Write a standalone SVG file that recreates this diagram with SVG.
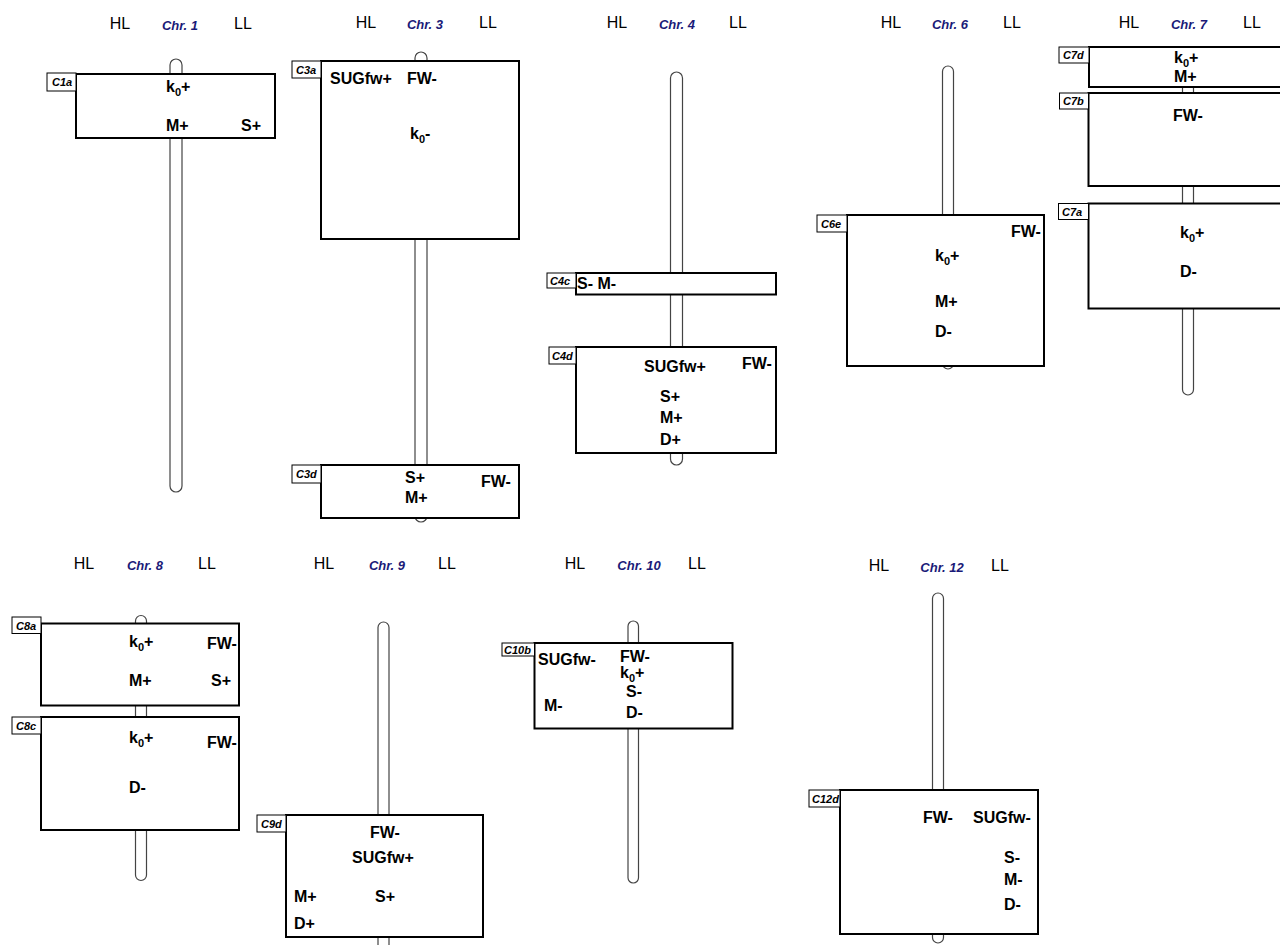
<svg xmlns="http://www.w3.org/2000/svg" width="1280" height="945" viewBox="0 0 1280 945">
<style>
.hl{font-family:"Liberation Sans",Arial,sans-serif;font-size:16px;fill:#000}
.chr{font-family:"Liberation Sans",Arial,sans-serif;font-size:13px;font-weight:bold;font-style:italic;fill:#1a1a78}
.bar{fill:#fff;stroke:#444;stroke-width:1.2}
.box{fill:#fff;stroke:#000;stroke-width:2}
.tag{fill:#fff;stroke:#000;stroke-width:1}
.tt{font-family:"Liberation Sans",Arial,sans-serif;font-size:11px;font-weight:bold;font-style:italic;fill:#000}
.lb{font-family:"Liberation Sans",Arial,sans-serif;font-size:16px;font-weight:bold;fill:#000}
.sub{font-size:11px}
</style>
<rect width="1280" height="945" fill="#fff"/>
<g id="headers">
<text class="hl" x="120" y="29" text-anchor="middle">HL</text><text class="chr" x="180" y="30" text-anchor="middle">Chr. 1</text><text class="hl" x="243" y="29" text-anchor="middle">LL</text>
<text class="hl" x="366" y="28" text-anchor="middle">HL</text><text class="chr" x="425" y="29" text-anchor="middle">Chr. 3</text><text class="hl" x="488" y="28" text-anchor="middle">LL</text>
<text class="hl" x="617" y="28" text-anchor="middle">HL</text><text class="chr" x="677" y="29" text-anchor="middle">Chr. 4</text><text class="hl" x="738" y="28" text-anchor="middle">LL</text>
<text class="hl" x="891" y="28" text-anchor="middle">HL</text><text class="chr" x="950" y="29" text-anchor="middle">Chr. 6</text><text class="hl" x="1012" y="28" text-anchor="middle">LL</text>
<text class="hl" x="1129" y="28" text-anchor="middle">HL</text><text class="chr" x="1189" y="29" text-anchor="middle">Chr. 7</text><text class="hl" x="1252" y="28" text-anchor="middle">LL</text>
<text class="hl" x="84" y="569" text-anchor="middle">HL</text><text class="chr" x="145" y="570" text-anchor="middle">Chr. 8</text><text class="hl" x="207" y="569" text-anchor="middle">LL</text>
<text class="hl" x="324" y="569" text-anchor="middle">HL</text><text class="chr" x="387" y="570" text-anchor="middle">Chr. 9</text><text class="hl" x="447" y="569" text-anchor="middle">LL</text>
<text class="hl" x="575" y="569" text-anchor="middle">HL</text><text class="chr" x="639" y="570" text-anchor="middle">Chr. 10</text><text class="hl" x="697" y="569" text-anchor="middle">LL</text>
<text class="hl" x="879" y="571" text-anchor="middle">HL</text><text class="chr" x="942" y="572" text-anchor="middle">Chr. 12</text><text class="hl" x="1000" y="571" text-anchor="middle">LL</text>
</g>
<g id="connectors">
<rect class="bar" x="170" y="59" width="12" height="433" rx="6"/>
<rect class="bar" x="415" y="52" width="12" height="470" rx="6"/>
<rect class="bar" x="670.5" y="72" width="12" height="393" rx="6"/>
<rect class="bar" x="942.5" y="66" width="11" height="303" rx="5.5"/>
<rect class="bar" x="1182.5" y="47" width="11" height="348" rx="5.5"/>
<rect class="bar" x="135.5" y="615.5" width="11" height="265" rx="5.5"/>
<rect class="bar" x="378" y="622" width="11" height="340" rx="5.5"/>
<rect class="bar" x="628" y="621" width="10.5" height="262" rx="5.25"/>
<rect class="bar" x="932.5" y="593" width="11" height="350" rx="5.5"/>
</g>
<g id="C1a">
<rect class="box" x="76" y="74" width="199" height="64"/>
<rect class="tag" x="47" y="73" width="29" height="18"/><text class="tt" x="52" y="86">C1a</text>
<text class="lb" x="166" y="92">k<tspan class="sub" dy="4">0</tspan><tspan dy="-4">+</tspan></text>
<text class="lb" x="166" y="131">M+</text>
<text class="lb" x="241" y="131">S+</text>
</g>
<g id="C3a">
<rect class="box" x="321" y="61" width="198" height="178"/>
<rect class="tag" x="292" y="61" width="29" height="17"/><text class="tt" x="296" y="74">C3a</text>
<text class="lb" x="330" y="84">SUGfw+</text>
<text class="lb" x="407" y="84">FW-</text>
<text class="lb" x="410" y="139">k<tspan class="sub" dy="4">0</tspan><tspan dy="-4">-</tspan></text>
</g>
<g id="C3d">
<rect class="box" x="321" y="465" width="198" height="53"/>
<rect class="tag" x="292" y="465" width="29" height="18"/><text class="tt" x="296" y="478">C3d</text>
<text class="lb" x="405" y="483">S+</text>
<text class="lb" x="405" y="503">M+</text>
<text class="lb" x="481" y="487">FW-</text>
</g>
<g id="C4c">
<rect class="box" x="576" y="273" width="200" height="21.5"/>
<rect class="tag" x="547" y="273" width="29" height="15"/><text class="tt" x="550" y="285">C4c</text>
<text class="lb" x="577" y="289">S- M-</text>
</g>
<g id="C4d">
<rect class="box" x="576" y="347" width="200" height="106"/>
<rect class="tag" x="549" y="347" width="27" height="17"/><text class="tt" x="552" y="360">C4d</text>
<text class="lb" x="644" y="372">SUGfw+</text>
<text class="lb" x="742" y="369">FW-</text>
<text class="lb" x="660" y="402">S+</text>
<text class="lb" x="660" y="423">M+</text>
<text class="lb" x="660" y="445">D+</text>
</g>
<g id="C6e">
<rect class="box" x="847" y="215" width="197" height="151"/>
<rect class="tag" x="817" y="215" width="30" height="17"/><text class="tt" x="821" y="228">C6e</text>
<text class="lb" x="1011" y="237">FW-</text>
<text class="lb" x="935" y="261">k<tspan class="sub" dy="4">0</tspan><tspan dy="-4">+</tspan></text>
<text class="lb" x="935" y="307">M+</text>
<text class="lb" x="935" y="337">D-</text>
</g>
<g id="C7d">
<rect class="box" x="1089" y="47" width="198" height="40"/>
<rect class="tag" x="1059" y="47" width="30" height="16"/><text class="tt" x="1063" y="59">C7d</text>
<text class="lb" x="1174" y="63">k<tspan class="sub" dy="4">0</tspan><tspan dy="-4">+</tspan></text>
<text class="lb" x="1174" y="82">M+</text>
</g>
<g id="C7b">
<rect class="box" x="1088.5" y="93" width="198" height="93"/>
<rect class="tag" x="1059.5" y="93" width="29" height="16"/><text class="tt" x="1063" y="105">C7b</text>
<text class="lb" x="1173" y="121">FW-</text>
</g>
<g id="C7a">
<rect class="box" x="1088.5" y="203.5" width="198" height="105"/>
<rect class="tag" x="1058.5" y="203.5" width="30" height="16"/><text class="tt" x="1062" y="216">C7a</text>
<text class="lb" x="1180" y="238">k<tspan class="sub" dy="4">0</tspan><tspan dy="-4">+</tspan></text>
<text class="lb" x="1180" y="277">D-</text>
</g>
<g id="C8a">
<rect class="box" x="41" y="623.5" width="198" height="82"/>
<rect class="tag" x="12" y="617" width="29" height="16.5"/><text class="tt" x="16" y="630">C8a</text>
<text class="lb" x="129" y="647">k<tspan class="sub" dy="4">0</tspan><tspan dy="-4">+</tspan></text>
<text class="lb" x="207" y="649">FW-</text>
<text class="lb" x="129" y="686">M+</text>
<text class="lb" x="211" y="686">S+</text>
</g>
<g id="C8c">
<rect class="box" x="41" y="717" width="198" height="113"/>
<rect class="tag" x="12" y="717" width="29" height="17"/><text class="tt" x="16" y="730">C8c</text>
<text class="lb" x="129" y="743">k<tspan class="sub" dy="4">0</tspan><tspan dy="-4">+</tspan></text>
<text class="lb" x="207" y="748">FW-</text>
<text class="lb" x="129" y="793">D-</text>
</g>
<g id="C9d">
<rect class="box" x="286" y="815" width="197" height="122"/>
<rect class="tag" x="257" y="815" width="29" height="17"/><text class="tt" x="261" y="828">C9d</text>
<text class="lb" x="370" y="838">FW-</text>
<text class="lb" x="352" y="863">SUGfw+</text>
<text class="lb" x="294" y="902">M+</text>
<text class="lb" x="375" y="902">S+</text>
<text class="lb" x="294" y="929">D+</text>
</g>
<g id="C10b">
<rect class="box" x="534.5" y="643" width="198" height="85.5"/>
<rect class="tag" x="502" y="643" width="32.5" height="13"/><text class="tt" x="504" y="654">C10b</text>
<text class="lb" x="538" y="665">SUGfw-</text>
<text class="lb" x="620" y="662">FW-</text>
<text class="lb" x="620" y="678">k<tspan class="sub" dy="4">0</tspan><tspan dy="-4">+</tspan></text>
<text class="lb" x="626" y="697">S-</text>
<text class="lb" x="544" y="711">M-</text>
<text class="lb" x="626" y="718">D-</text>
</g>
<g id="C12d">
<rect class="box" x="840" y="790" width="198" height="144"/>
<rect class="tag" x="809" y="790" width="31" height="17"/><text class="tt" x="812" y="803">C12d</text>
<text class="lb" x="923" y="823">FW-</text>
<text class="lb" x="973" y="823">SUGfw-</text>
<text class="lb" x="1004" y="863">S-</text>
<text class="lb" x="1004" y="885">M-</text>
<text class="lb" x="1004" y="910">D-</text>
</g>
</svg>
